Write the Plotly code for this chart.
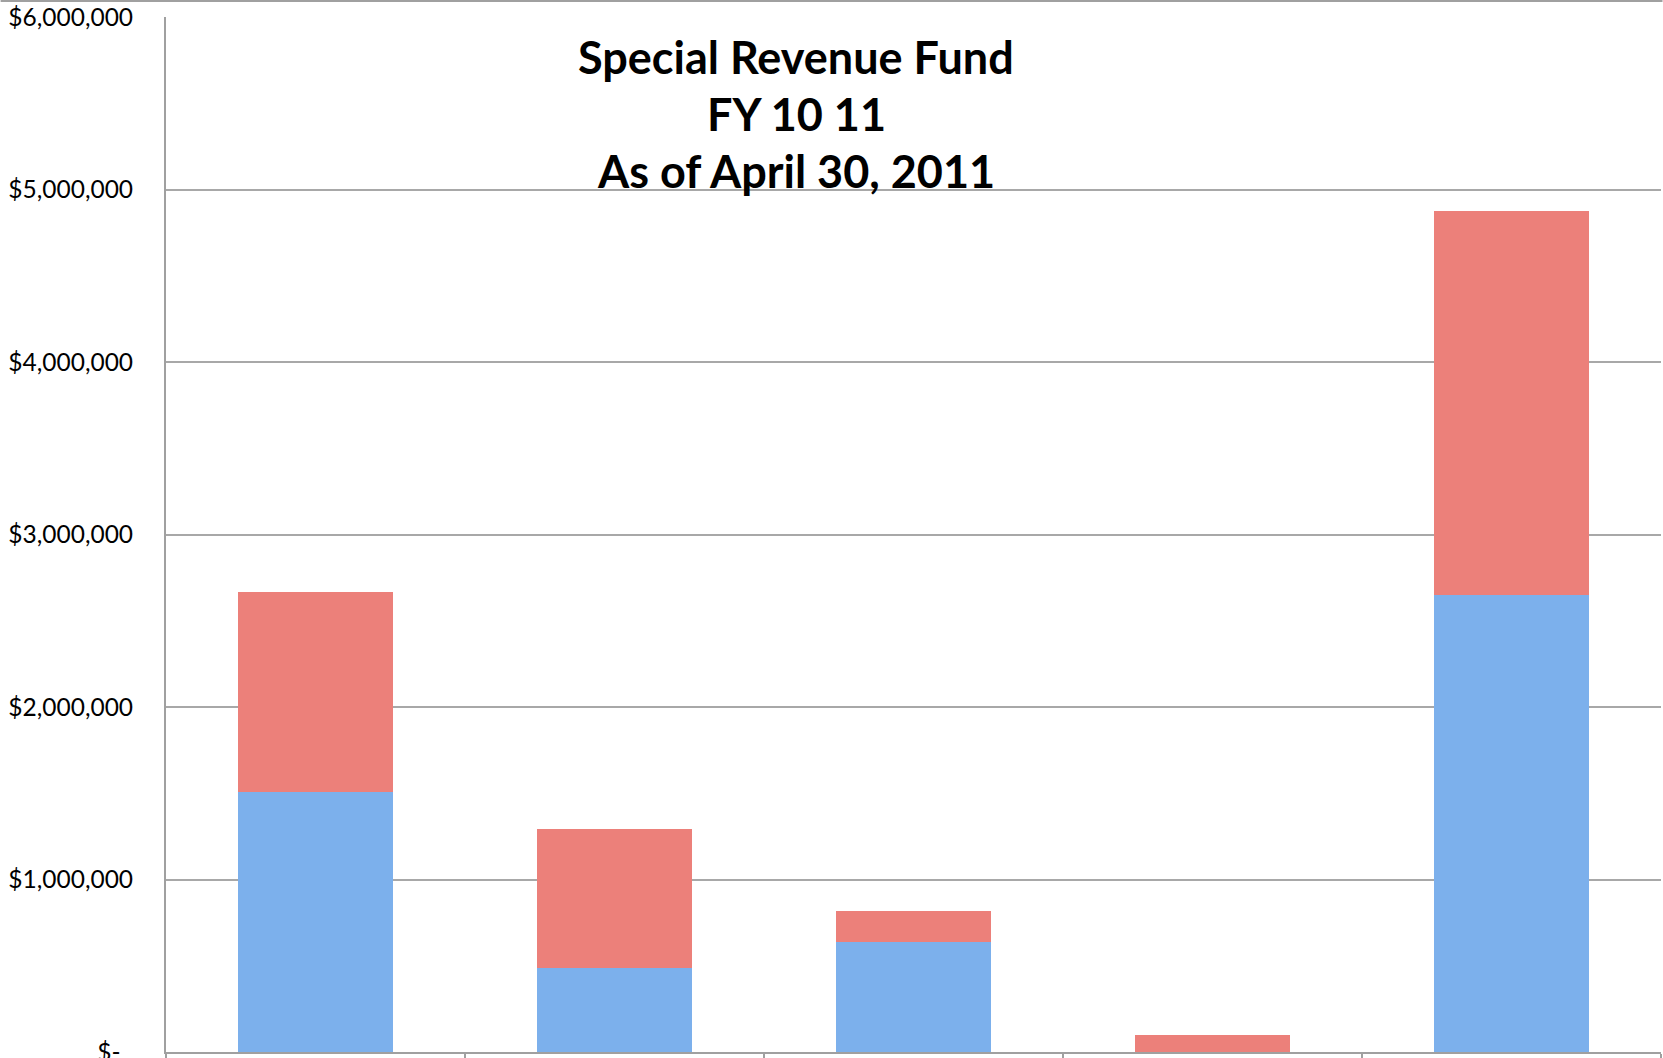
import plotly.graph_objects as go

categories = ["Fund 1", "Fund 2", "Fund 3", "Fund 4", "Fund 5"]
series_lower = [1507000, 485000, 639000, 0, 2649000]
series_upper = [1160000, 808000, 178000, 99000, 2226000]
tick_values = [0, 1000000, 2000000, 3000000, 4000000, 5000000, 6000000]
tick_labels = ["$-\u00a0\u00a0", "$1,000,000", "$2,000,000", "$3,000,000",
               "$4,000,000", "$5,000,000", "$6,000,000"]
title_lines = ["Special Revenue Fund", "FY 10 11", "As of April 30, 2011"]

W, H = 1663, 1058
L, R, T, B = 165.5, 1.5, 17, 6
plot_w = W - L - R
plot_h = H - T - B

fig = go.Figure()
fig.add_trace(go.Bar(x=categories, y=series_lower, name="Series 1",
                     marker=dict(color="#7cb0ec", line=dict(width=0))))
fig.add_trace(go.Bar(x=categories, y=series_upper, name="Series 2",
                     marker=dict(color="#ec807a", line=dict(width=0))))

def px_to_paper_y(py):
    return 1 - (py - T) / plot_h

def px_to_paper_x(px):
    return (px - L) / plot_w

centers = [57, 114, 171]
for line, cy in zip(title_lines, centers):
    fig.add_annotation(text="<b>" + line + "</b>", xref="paper", yref="paper",
                       x=px_to_paper_x(796), y=px_to_paper_y(cy),
                       xanchor="center", yanchor="middle", showarrow=False,
                       font=dict(family="Lato", size=45, color="#000000"))

fig.add_shape(type="line", xref="paper", yref="paper",
              x0=px_to_paper_x(0), x1=px_to_paper_x(W), y0=px_to_paper_y(1), y1=px_to_paper_y(1),
              line=dict(color="#a0a0a0", width=2))

fig.update_layout(
    width=W, height=H,
    margin=dict(l=L, r=R, t=T, b=B, pad=0, autoexpand=False),
    barmode="stack", bargap=0.482,
    showlegend=False,
    plot_bgcolor="white", paper_bgcolor="white",
    font=dict(family="Lato", color="#000000"),
)
fig.update_xaxes(showticklabels=False, ticks="outside", tickson="boundaries",
                 ticklen=6, tickcolor="#a0a0a0", tickwidth=2, automargin=False,
                 showline=True, linecolor="#a0a0a0", linewidth=2,
                 showgrid=False, zeroline=False)
fig.update_yaxes(range=[0, 6000000], tickmode="array", tickvals=tick_values,
                 ticktext=tick_labels, tickfont=dict(family="Lato", size=24.5, color="#000000"),
                 ticks="", ticklabelstandoff=26, ticklabeloverflow="allow", automargin=False,
                 showline=True, linecolor="#a0a0a0", linewidth=2,
                 showgrid=True, gridcolor="#a8a8a8", gridwidth=2, zeroline=False)

fig.write_html("out.html", config={"displayModeBar": False},
               post_script="document.body.style.margin='0';document.body.style.overflow='hidden';")
